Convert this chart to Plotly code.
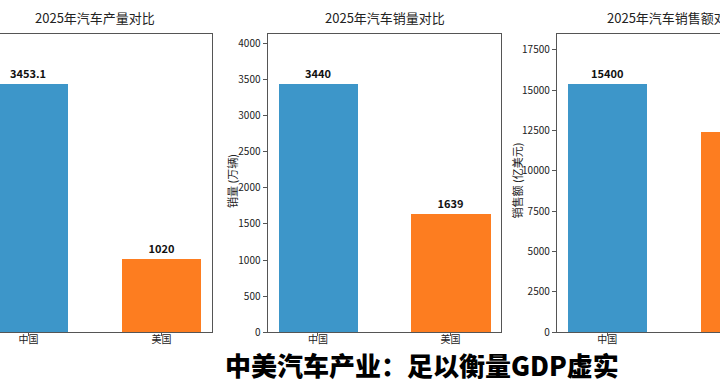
import plotly.graph_objects as go

# ---- data ----
countries = ["中国", "美国"]
production = [3453.1, 1020]        # 万辆
sales_volume = [3440, 1639]        # 万辆
sales_value = [15400, 12400]       # 亿美元
titles = ["2025年汽车产量对比", "2025年汽车销量对比", "2025年汽车销售额对比"]
ylabels = ["产量 (万辆)", "销量 (万辆)", "销售额 (亿美元)"]
caption = "中美汽车产业：足以衡量GDP虚实"
bar_colors = ["#3d96c9", "#fd7d20"]

W, H = 720, 388
SY = 388 / 380  # compensate vertical screenshot scaling
FONT = "Noto Sans CJK SC"


def fx(p):
    return p / W


def fy(p):
    return 1 - (p * SY) / H


series = [production, sales_volume, sales_value]
xdoms = [(0, 212), (267.5, 501), (556.8, 720)]
xranges = [[-0.2135, 1.38], [-0.38, 1.38], [-0.38, 0.847]]
title_cx = [95, 384.5, 673.4]
ylabel_x = [None, 232, 516.5]
ydom = [fy(330.5), fy(34)]
xpos = list(range(len(countries)))

fig = go.Figure()
axis_line = "#555555"

for i, vals in enumerate(series):
    n = "" if i == 0 else str(i + 1)
    fig.add_trace(go.Bar(
        x=xpos, y=vals, width=0.6,
        marker=dict(color=bar_colors, line=dict(width=0)),
        text=[f"{v:g}" for v in vals], textposition="outside",
        textfont=dict(family=FONT, size=11, color="#111111", weight="bold"),
        cliponaxis=True, showlegend=False,
        xaxis="x" + n, yaxis="y" + n,
    ))
    xa = dict(domain=[fx(xdoms[i][0]), fx(xdoms[i][1])], range=xranges[i],
              tickvals=xpos, ticktext=countries, showline=True, mirror=True,
              linecolor=axis_line, linewidth=1, ticks="outside", ticklen=3,
              ticklabelstandoff=-5,
              tickcolor=axis_line, showgrid=False, zeroline=False,
              tickfont=dict(family=FONT, size=10, color="#222222"),
              anchor="y" + n, fixedrange=True)
    ya = dict(domain=ydom, range=[0, max(vals) * 1.2], showgrid=False,
              zeroline=False, anchor="x" + n, linecolor=axis_line, linewidth=1,
              tickfont=dict(family=FONT, size=10, color="#222222"),
              tickcolor=axis_line, tickformat="d", fixedrange=True)
    if i == 0:
        ya.update(side="right", showline=True, showticklabels=False, ticks="")
    elif i == 1:
        ya.update(showline=True, mirror=True, ticks="outside", ticklen=4, dtick=500)
    else:
        ya.update(showline=True, mirror=False, ticks="outside", ticklen=4, dtick=2500)
    fig.update_layout(**{"xaxis" + n: xa, "yaxis" + n: ya})

    fig.add_annotation(text=titles[i], xref="paper", yref="paper",
                       x=fx(title_cx[i]), y=fy(17), xanchor="center", yanchor="middle",
                       showarrow=False, font=dict(family=FONT, size=13, color="#222222"))
    if ylabel_x[i] is not None:
        fig.add_annotation(text=ylabels[i], xref="paper", yref="paper",
                           x=fx(ylabel_x[i]), y=fy(180), xanchor="center", yanchor="middle",
                           textangle=-90, showarrow=False,
                           font=dict(family=FONT, size=11, color="#222222"))

fig.add_annotation(text=caption, xref="paper", yref="paper",
                   x=fx(422), y=fy(363), xanchor="center", yanchor="middle",
                   showarrow=False,
                   font=dict(family=FONT, size=26, color="#000000", weight=900))

fig.update_layout(width=W, height=H, margin=dict(l=0, r=0, t=0, b=0),
                  paper_bgcolor="white", plot_bgcolor="white", bargap=0)

fig.write_html("out.html", config={"displayModeBar": False},
               post_script="document.body.style.margin='0';document.body.style.overflow='hidden';")
